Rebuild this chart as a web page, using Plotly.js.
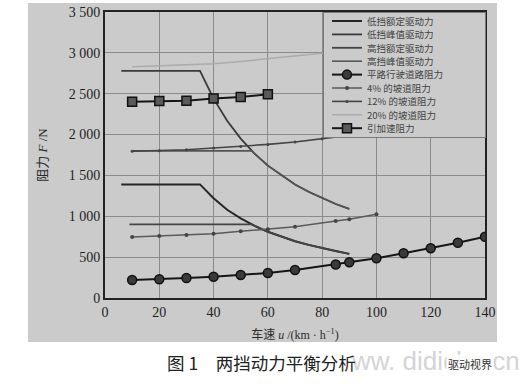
<!DOCTYPE html>
<html>
<head>
<meta charset="utf-8">
<script src="https://cdn.plot.ly/plotly-3.0.1.min.js"></script>
<style>
  html, body { margin: 0; padding: 0; background: #ffffff; }
  #chart { width: 526px; height: 389px; }
</style>
</head>
<body>
<div id="chart"></div>
<script>
// ---- data ----
var seriesNames = ['低挡额定驱动力', '低挡峰值驱动力', '高挡额定驱动力', '高挡峰值驱动力',
  '平路行驶道路阻力', '4% 的坡道阻力', '12% 的坡道阻力', '20% 的坡道阻力', '引加速阻力'];

var speedLow = [6, 35, 40, 45, 50, 55, 60, 65, 70, 75, 80, 85, 90];
var forceLowRated = [1390, 1390, 1220, 1080, 975, 885, 810, 750, 695, 650, 610, 575, 540];
var forceLowPeak = [2780, 2780, 2440, 2170, 1950, 1770, 1620, 1500, 1390, 1300, 1220, 1150, 1090];

var speedHighRated = [9, 54, 60, 65, 70, 75, 80, 85, 90];
var forceHighRated = [900, 900, 810, 750, 695, 650, 610, 575, 540];
var speedHighPeak = [10, 54, 60, 65, 70, 75, 80, 85, 90];
var forceHighPeak = [1800, 1800, 1620, 1500, 1390, 1300, 1220, 1150, 1090];

var speedFlat = [10, 20, 30, 40, 50, 60, 70, 85, 90, 100, 110, 120, 130, 140];
var forceFlat = [220, 229, 245, 261, 282, 305, 343, 410, 438, 486, 547, 608, 677, 750];

var speedSlope4 = [10, 20, 30, 40, 50, 60, 70, 85, 90, 100];
var forceSlope4 = [747, 759, 771, 787, 816, 841, 873, 942, 963, 1024];

var speedSlope12 = [10, 20, 30, 40, 50, 60, 70, 80, 90];
var forceSlope12 = [1795, 1802, 1815, 1835, 1855, 1880, 1910, 1950, 1990];

var speedSlope20 = [10, 20, 30, 40, 50, 60, 70, 80, 90];
var forceSlope20 = [2830, 2840, 2852, 2868, 2895, 2930, 2960, 2995, 3040];

var speedAccel = [10, 20, 30, 40, 50, 60];
var forceAccel = [2403, 2411, 2415, 2440, 2460, 2493];

var xTickVals = [0, 20, 40, 60, 80, 100, 120, 140];
var xTickText = ['0', '20', '40', '60', '80', '100', '120', '140'];
var yTickVals = [0, 500, 1000, 1500, 2000, 2500, 3000, 3500];
var yTickText = ['0', '500', '1 000', '1 500', '2 000', '2 500', '3 000', '3 500'];

// ---- traces ----
var traces = [
  { x: speedLow, y: forceLowRated, name: seriesNames[0], mode: 'lines',
    line: { color: '#262626', width: 2 } },
  { x: speedLow, y: forceLowPeak, name: seriesNames[1], mode: 'lines',
    line: { color: '#3a3a3a', width: 1.8 } },
  { x: speedHighRated, y: forceHighRated, name: seriesNames[2], mode: 'lines',
    line: { color: '#444444', width: 1.8 } },
  { x: speedHighPeak, y: forceHighPeak, name: seriesNames[3], mode: 'lines',
    line: { color: '#555555', width: 1.6 } },
  { x: speedFlat, y: forceFlat, name: seriesNames[4], mode: 'lines+markers',
    line: { color: '#151515', width: 2 },
    marker: { symbol: 'circle', size: 9, color: '#3a3a3a', line: { color: '#111111', width: 1.5 } } },
  { x: speedSlope4, y: forceSlope4, name: seriesNames[5], mode: 'lines+markers',
    line: { color: '#5a5a5a', width: 1.5 },
    marker: { symbol: 'circle', size: 4, color: '#444444' } },
  { x: speedSlope12, y: forceSlope12, name: seriesNames[6], mode: 'lines+markers',
    line: { color: '#444444', width: 1.6 },
    marker: { symbol: 'circle', size: 3, color: '#444444' } },
  { x: speedSlope20, y: forceSlope20, name: seriesNames[7], mode: 'lines',
    line: { color: '#ababab', width: 1.5 } },
  { x: speedAccel, y: forceAccel, name: seriesNames[8], mode: 'lines+markers',
    line: { color: '#151515', width: 2 },
    marker: { symbol: 'square', size: 9, color: '#5a5a5a', line: { color: '#111111', width: 1.5 } } }
];

var tickFont = { family: '"Liberation Serif", "DejaVu Serif", serif', size: 14, color: '#1e1e1e' };
var cjk = '"Liberation Serif", "Noto Sans CJK SC", serif';

var layout = {
  width: 526, height: 389,
  margin: { l: 105, r: 41, t: 12, b: 91 },
  paper_bgcolor: '#ffffff',
  plot_bgcolor: '#cbcbcb',
  showlegend: true,
  legend: {
    x: 0.5737, y: 1, xanchor: 'left', yanchor: 'top',
    bgcolor: '#cbcbcb', bordercolor: '#7a7a7a', borderwidth: 1,
    font: { family: '"Noto Sans CJK SC", sans-serif', size: 9.5, color: '#444444' },
    itemwidth: 30, tracegroupgap: 0
  },
  xaxis: {
    range: [0, 140], tickvals: xTickVals, ticktext: xTickText,
    tickfont: tickFont, ticks: '', showgrid: true, gridcolor: '#8a8a8a', gridwidth: 1,
    zeroline: false, showline: true, mirror: true, linecolor: '#222222', linewidth: 2,
    automargin: false,
    title: { text: '车速 <i>u</i> /(km · h<sup>−1</sup>)', standoff: 12,
      font: { family: cjk, size: 12, color: '#2a2a2a' } }
  },
  yaxis: {
    range: [0, 3500], tickvals: yTickVals, ticktext: yTickText,
    tickfont: tickFont, ticks: '', showgrid: true, gridcolor: '#8a8a8a', gridwidth: 1,
    zeroline: false, showline: true, mirror: true, linecolor: '#222222', linewidth: 2,
    automargin: false,
    title: { text: '阻力 <i>F</i> /N', standoff: 18,
      font: { family: cjk, size: 13, color: '#2a2a2a' } }
  },
  shapes: [
    { type: 'rect', xref: 'paper', yref: 'paper', layer: 'below',
      x0: -0.2026, x1: 1.0316, y0: -0.1538, y1: 1.0315,
      fillcolor: '#cbcbcb', line: { width: 0 } }
  ],
  annotations: [
    { text: 'ww. didiche.cn', xref: 'paper', yref: 'paper', x: 1.097, y: -0.221,
      xanchor: 'right', yanchor: 'middle', showarrow: false,
      font: { family: '"Liberation Sans", sans-serif', size: 26, color: '#d4d4d4' } },
    { text: '图 1　两挡动力平衡分析', xref: 'paper', yref: 'paper', x: 0.413, y: -0.2238,
      xanchor: 'center', yanchor: 'middle', showarrow: false,
      font: { family: '"Noto Sans CJK SC", sans-serif', size: 17.5, color: '#222222' } },
    { text: '驱动视界', xref: 'paper', yref: 'paper', x: 0.9605, y: -0.2308,
      xanchor: 'center', yanchor: 'middle', showarrow: false, bgcolor: 'rgba(255,255,255,0.85)',
      font: { family: '"Noto Sans CJK SC", sans-serif', size: 11, color: '#333333' } }
  ]
};

Plotly.newPlot('chart', traces, layout, { staticPlot: true, displayModeBar: false }).then(function (gd) {
  // compact the legend rows to match the tight spacing of the reference
  var items = gd.querySelectorAll('.legend .traces');
  var rowGap = 13.4, firstRow = 9;
  items.forEach(function (el, i) {
    el.setAttribute('transform', 'translate(4,' + (firstRow + i * rowGap) + ')');
  });
  var groups = gd.querySelectorAll('.legend .groups');
  groups.forEach(function (g) { g.setAttribute('transform', 'translate(0,0)'); });
  var bg = gd.querySelector('.legend rect.bg');
  if (bg) {
    bg.setAttribute('height', firstRow * 2 + (items.length - 1) * rowGap);
    bg.setAttribute('width', 162);
  }
});
</script>
</body>
</html>
